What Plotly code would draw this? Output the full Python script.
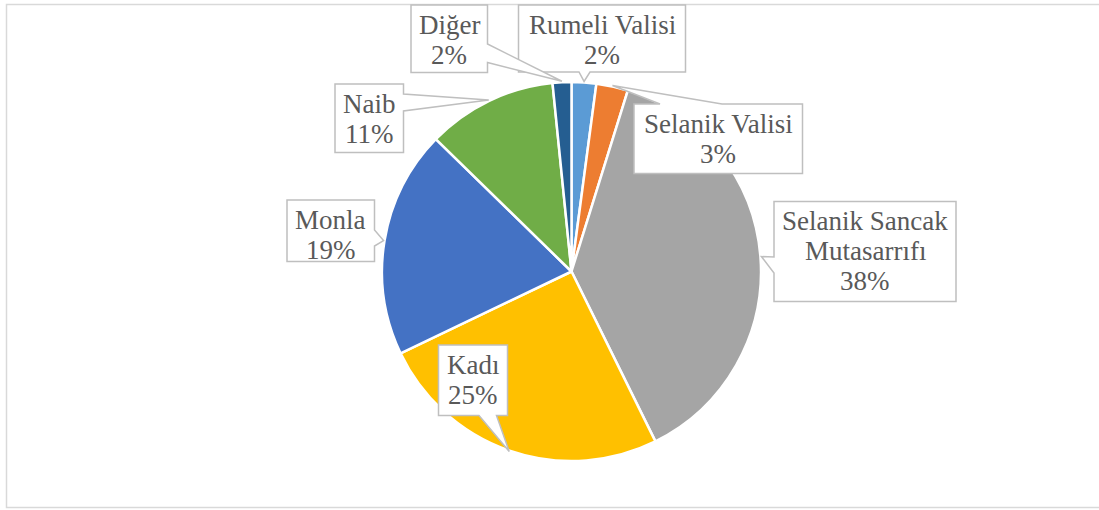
import math
import plotly.graph_objects as go

# ---- data ----
labels = ["Rumeli Valisi", "Selanik Valisi", "Selanik Sancak Mutasarrıfı", "Kadı", "Monla", "Naib", "Diğer"]
label_lines = [["Rumeli Valisi"], ["Selanik Valisi"], ["Selanik Sancak", "Mutasarrıfı"], ["Kadı"], ["Monla"], ["Naib"], ["Diğer"]]
values = [2.1, 2.7, 37.9, 25.2, 19.4, 11.1, 1.6]
colors = ["#5B9BD5", "#ED7D31", "#A5A5A5", "#FFC000", "#4472C4", "#70AD47", "#255E91"]

W, H = 1099, 510
CX, CY, R = 571.5, 271.5, 189.5
FONT = "Liberation Serif, Times New Roman, Tinos, DejaVu Serif, serif"

# callout boxes (pixel layout): x0, y0, x1, y1, tail side, tail base a, tail base b
boxes = [
    (518.5, 5, 685.5, 72, "bottom", 579, 590),      # Rumeli Valisi
    (634, 104, 802.5, 173.5, "top", 660, 722),      # Selanik Valisi
    (774, 201.5, 956, 301.5, "left", 257, 273),     # Selanik Sancak
    (438.5, 345, 507.5, 415.5, "bottom", 479, 496.5),  # Kadı
    (287, 200, 374.5, 261.5, "right", 230, 246),    # Monla
    (335, 84, 403.5, 152.5, "right", 94, 111),      # Naib
    (411, 5, 487.5, 72.5, "right", 44, 62.5),       # Diğer
]

fig = go.Figure()
fig.add_trace(go.Pie(
    labels=labels, values=values, sort=False, direction="clockwise", rotation=0,
    marker=dict(colors=colors, line=dict(color="white", width=2.5)),
    textinfo="none", hoverinfo="skip", showlegend=False,
    domain=dict(x=[(CX - R) / W, (CX + R) / W], y=[1 - (CY + R) / H, 1 - (CY - R) / H]),
))

total = sum(values)
shapes = [dict(type="rect", xref="x", yref="y", x0=6.5, y0=4.5, x1=1101, y1=507.5,
               line=dict(color="#D9D9D9", width=1.5), fillcolor="rgba(0,0,0,0)", layer="below")]
annotations = []
cum = 0.0
for i in range(len(values)):
    v = values[i]
    mid = (cum + v / 2) / total * 2 * math.pi
    cum += v
    tx = CX + (R + 1) * math.sin(mid)
    ty = CY - (R + 1) * math.cos(mid)
    x0, y0, x1, y1, side, a, b = boxes[i]
    if side == "right":
        p = f"M{x0},{y0} L{x1},{y0} L{x1},{a} L{tx},{ty} L{x1},{b} L{x1},{y1} L{x0},{y1} Z"
    elif side == "bottom":
        p = f"M{x0},{y0} L{x1},{y0} L{x1},{y1} L{b},{y1} L{tx},{ty} L{a},{y1} L{x0},{y1} Z"
    elif side == "top":
        p = f"M{x0},{y0} L{a},{y0} L{tx},{ty} L{b},{y0} L{x1},{y0} L{x1},{y1} L{x0},{y1} Z"
    else:
        p = f"M{x0},{y0} L{x1},{y0} L{x1},{y1} L{x0},{y1} L{x0},{b} L{tx},{ty} L{x0},{a} Z"
    shapes.append(dict(type="path", xref="x", yref="y", path=p, fillcolor="white",
                       line=dict(color="#BFBFBF", width=1.5), layer="above"))
    lines = label_lines[i] + [f"{v / total * 100:.0f}%"]
    xc = (x0 + x1) / 2
    for k, t in enumerate(lines):
        base = y0 + 28.5 + 30 * k
        annotations.append(dict(x=xc, y=base - 9, xref="x", yref="y", text=t, showarrow=False,
                                xanchor="center", yanchor="middle",
                                font=dict(family=FONT, size=27, color="#595959")))

fig.update_layout(
    width=W, height=H, margin=dict(l=0, r=0, t=0, b=0),
    paper_bgcolor="white", plot_bgcolor="rgba(0,0,0,0)",
    xaxis=dict(range=[0, W], visible=False, domain=[0, 1], fixedrange=True),
    yaxis=dict(range=[H, 0], visible=False, domain=[0, 1], fixedrange=True),
    shapes=shapes, annotations=annotations, showlegend=False,
)
fig.write_html("out.html", config={"displayModeBar": False},
               post_script="document.body.style.margin='0';document.body.style.overflow='hidden';")
